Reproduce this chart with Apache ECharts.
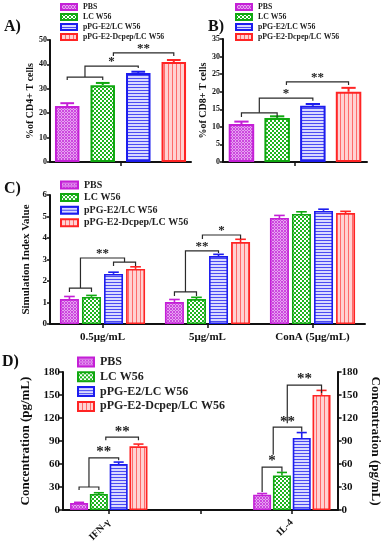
<!DOCTYPE html>
<html><head><meta charset="utf-8">
<script src="https://cdn.jsdelivr.net/npm/echarts@6/dist/echarts.min.js"></script>
<style>html,body{margin:0;padding:0;background:#fff}#c{width:390px;height:550px}</style>
</head><body><div id="c"></div>
<script>
// ---------------- DATA ----------------
const seriesNames = ['PBS', 'LC W56', 'pPG-E2/LC W56', 'pPG-E2-Dcpep/LC W56'];

// Panel A – % of CD4+ T cells
const aValues = [22.9, 31.5, 36.5, 41.0];
const aErrors = [1.2, 0.9, 0.5, 0.8];
const aTicks = [0, 10, 20, 30, 40, 50];
// [fromSlot, toSlot, level, leftEnd, rightEnd, label]
const aBrackets = [[0, 1, 34.8, 33.6, 33.6, ''], [0.5, 2, 39.3, 34.8, 38.5, '*'], [1.3, 3, 44.7, 43.4, 43.4, '**']];

// Panel B – % of CD8+ T cells
const bValues = [10.8, 12.5, 16.0, 20.0];
const bErrors = [0.7, 0.5, 0.5, 1.1];
const bTicks = [0, 5, 10, 15, 20, 25, 30, 35];
const bBrackets = [[0, 1, 14.0, 12.8, 12.8, ''], [0.5, 2, 18.2, 14.0, 17.4, '*'], [1.26, 3, 22.8, 21.9, 21.9, '**']];

// Panel C – Stimulation index
const cCategories = ['0.5μg/mL', '5μg/mL', 'ConA (5μg/mL)'];
const cPBS = [1.16, 1.02, 4.93];
const cLC = [1.26, 1.16, 5.12];
const cPPG = [2.33, 3.16, 5.26];
const cDcpep = [2.56, 3.81, 5.16];
const cErrPBS = [0.12, 0.12, 0.12];
const cErrLC = [0.07, 0.08, 0.1];
const cErrPPG = [0.08, 0.08, 0.08];
const cErrDcpep = [0.1, 0.13, 0.08];
const cTicks = [0, 1, 2, 3, 4, 5, 6];
// [category, fromSlot, toSlot, level, leftEnd, rightEnd, label]
const cBrackets = [
  [0, 0, 1, 1.67, 1.49, 1.49, ''], [0, 2, 3, 2.88, 2.7, 2.7, ''], [0, 0.5, 2.5, 3.07, 1.67, 2.88, '**'],
  [1, 0, 1, 1.49, 1.3, 1.3, ''], [1, 0.5, 2, 3.4, 1.49, 3.3, '**'], [1, 1.27, 3, 4.14, 3.95, 3.95, '*']
];

// Panel D – Cytokine concentration (pg/mL)
const dCategories = ['IFN-γ', 'IL-4'];
const dPBS = [9, 20];
const dLC = [21, 45];
const dPPG = [60, 94];
const dDcpep = [83, 150];
const dErrPBS = [1, 1.5];
const dErrLC = [1.5, 4];
const dErrPPG = [2.5, 7];
const dErrDcpep = [3, 6];
const dTicks = [0, 30, 60, 90, 120, 150, 180];
const dBrackets = [
  [0, 0, 1, 30, 26, 26, ''], [0, 0.5, 2, 68, 30, 65, '**'], [0, 1.35, 3, 95, 91, 91, '**'],
  [1, 0, 1, 56, 23.5, 50, '*'], [1, 0.56, 2, 108, 72, 102, '**'], [1, 1.27, 3, 163, 113, 152.5, '**']
];

// ---------------- STYLE ----------------
const FONT = 'Liberation Serif';
const borderColors = ['#c41fd6', '#10a810', '#1c1cee', '#ff2424'];

function makePattern(kind) {
  const cv = document.createElement('canvas');
  const ctx = cv.getContext('2d');
  if (kind === 0) {
    cv.width = 3; cv.height = 3;
    ctx.fillStyle = '#e7a3f1'; ctx.fillRect(0, 0, 3, 3);
    ctx.fillStyle = '#cc48de';
    ctx.fillRect(0, 0, 1, 1); ctx.fillRect(1, 1, 1, 1); ctx.fillRect(2, 2, 1, 1);
    ctx.fillRect(2, 0, 1, 1); ctx.fillRect(0, 2, 1, 1);
  } else if (kind === 1) {
    cv.width = 4; cv.height = 4;
    ctx.fillStyle = '#1fb41f'; ctx.fillRect(0, 0, 4, 4);
    ctx.fillStyle = '#ffffff';
    ctx.fillRect(0, 0, 2, 2); ctx.fillRect(2, 2, 2, 2);
  } else if (kind === 2) {
    cv.width = 3; cv.height = 3;
    ctx.fillStyle = '#d9d9ff'; ctx.fillRect(0, 0, 3, 3);
    ctx.fillStyle = '#4a4af2'; ctx.fillRect(0, 0, 3, 1);
  } else {
    cv.width = 4; cv.height = 4;
    ctx.fillStyle = '#ffd2d2'; ctx.fillRect(0, 0, 4, 4);
    ctx.fillStyle = '#ff6a6a'; ctx.fillRect(0, 0, 1, 4);
  }
  return { image: cv, repeat: 'repeat' };
}
const patterns = [0, 1, 2, 3].map(makePattern);

const panels = [
  { key: 'A', grid: { left: 50, top: 40, width: 141, height: 122 }, barWidth: 24.5, gap: 0.45, border: 2, tickFont: 8, ticks: aTicks,
    name: '%of CD4+ T cells', nameFont: 10, nameGap: 15, cats: [''], tickLen: 3 },
  { key: 'B', grid: { left: 223, top: 39, width: 144, height: 123 }, barWidth: 25.5, gap: 0.4, border: 2, tickFont: 8, ticks: bTicks,
    name: '%of CD8+ T cells', nameFont: 10, nameGap: 13, cats: [''], tickLen: 3 },
  { key: 'C', grid: { left: 50, top: 195, width: 315, height: 129 }, barWidth: 19, gap: 0.16, border: 1.6, tickFont: 9, ticks: cTicks,
    name: 'Simulation Index Value', nameFont: 11, nameGap: 12, cats: cCategories, tickLen: 3 },
  { key: 'D', grid: { left: 63, top: 372, width: 285, height: 138 }, barWidth: 18, gap: 0.1, border: 1.6, tickFont: 11, ticks: dTicks,
    name: 'Concentration (pg/mL)', nameFont: 13, nameGap: 24, cats: [dCategories[0], '', dCategories[1]], tickLen: 4 }
];

const grids = [], xAxes = [], yAxes = [], series = [], legends = [];

function yAxisFor(p, gi, extra) {
  const t = p.ticks;
  return Object.assign({
    type: 'value', gridIndex: gi, min: t[0], max: t[t.length - 1], interval: t[1] - t[0],
    axisLine: { show: true, lineStyle: { color: '#111', width: 2 } },
    axisTick: { show: true, length: p.tickLen, lineStyle: { color: '#111', width: 1.5 } },
    splitLine: { show: false },
    axisLabel: { fontFamily: FONT, fontWeight: 'bold', fontSize: p.tickFont, color: '#111', margin: 3 },
    name: p.name, nameLocation: 'middle', nameGap: p.nameGap,
    nameTextStyle: { fontFamily: FONT, fontWeight: 'bold', fontSize: p.nameFont, color: '#111' }
  }, extra || {});
}

panels.forEach((p, gi) => {
  grids.push(Object.assign({ containLabel: false }, p.grid));
  xAxes.push({
    type: 'category', gridIndex: gi, data: p.cats,
    axisLine: { show: true, lineStyle: { color: '#111', width: 2 } },
    axisTick: { show: true, alignWithLabel: true, length: 4, lineStyle: { color: '#111', width: 1.5 } },
    axisLabel: p.key === 'C' ? { fontFamily: FONT, fontWeight: 'bold', fontSize: 11, color: '#111', margin: 8 }
      : p.key === 'D' ? { fontFamily: FONT, fontWeight: 'bold', fontSize: 10, color: '#111', rotate: 45, margin: 11, interval: 0 }
      : { show: false }
  });
});
yAxes.push(yAxisFor(panels[0], 0));
yAxes.push(yAxisFor(panels[1], 1));
yAxes.push(yAxisFor(panels[2], 2));
yAxes.push(yAxisFor(panels[3], 3, { position: 'left' }));
yAxes.push(yAxisFor(panels[3], 3, { position: 'right', nameRotate: -90,
  axisLabel: { fontFamily: FONT, fontWeight: 'bold', fontSize: 11, color: '#111', margin: 4 } }));

function barSeries(pi, yi, datas) {
  const p = panels[pi];
  datas.forEach((d, s) => {
    series.push({
      type: 'bar', name: seriesNames[s], xAxisIndex: pi, yAxisIndex: yi,
      data: d, barWidth: p.barWidth, barGap: (p.gap * 100) + '%',
      itemStyle: { color: patterns[s], borderColor: borderColors[s], borderWidth: p.border },
      emphasis: { disabled: true }, z: 2
    });
  });
}
function errorSeries(pi, yi, items) {
  const p = panels[pi];
  const step = p.barWidth * (1 + p.gap);
  series.push({
    type: 'custom', xAxisIndex: pi, yAxisIndex: yi, z: 5, silent: true,
    data: items,
    renderItem: (params, api) => {
      const cat = api.value(0), slot = api.value(1), v = api.value(2), e = api.value(3);
      const b = api.coord([cat, v]), t = api.coord([cat, v + e]);
      const x = b[0] + (slot - 1.5) * step;
      const cap = p.barWidth * 0.28;
      const st = { stroke: borderColors[slot], lineWidth: p.border };
      return { type: 'group', children: [
        { type: 'line', shape: { x1: x, y1: b[1], x2: x, y2: t[1] }, style: st },
        { type: 'line', shape: { x1: x - cap, y1: t[1], x2: x + cap, y2: t[1] }, style: st }
      ] };
    }
  });
}
function bracketSeries(pi, yi, list, catMap) {
  const p = panels[pi];
  const step = p.barWidth * (1 + p.gap);
  series.push({
    type: 'custom', xAxisIndex: pi, yAxisIndex: yi, z: 6, silent: true,
    data: list.map(b => [catMap(b[0]), b[1], b[2], b[3], b[4], b[5]]),
    renderItem: (params, api) => {
      const br = list[params.dataIndex];
      const cat = api.value(0);
      const c0 = api.coord([cat, 0])[0];
      const xa = c0 + (api.value(1) - 1.5) * step, xb = c0 + (api.value(2) - 1.5) * step;
      const y = api.coord([cat, api.value(3)])[1];
      const yl = api.coord([cat, api.value(4)])[1];
      const yr = api.coord([cat, api.value(5)])[1];
      const children = [{ type: 'polyline', shape: { points: [[xa, yl], [xa, y], [xb, y], [xb, yr]] },
        style: { stroke: '#2a2a2a', lineWidth: 1.2, fill: null } }];
      if (br[6]) children.push({ type: 'text', x: (xa + xb) / 2, y: y + 2,
        style: { text: br[6], fontFamily: FONT, fontWeight: 'bold', fontSize: p.key === 'D' ? 15 : 13,
          fill: '#222', align: 'center', verticalAlign: 'bottom' } });
      return { type: 'group', children };
    }
  });
}

// Panel A
barSeries(0, 0, aValues.map(v => [v]));
errorSeries(0, 0, aValues.map((v, s) => [0, s, v, aErrors[s]]));
bracketSeries(0, 0, aBrackets.map(b => [0].concat(b)), c => c);
// Panel B
barSeries(1, 1, bValues.map(v => [v]));
errorSeries(1, 1, bValues.map((v, s) => [0, s, v, bErrors[s]]));
bracketSeries(1, 1, bBrackets.map(b => [0].concat(b)), c => c);
// Panel C
const cVals = [cPBS, cLC, cPPG, cDcpep], cErrs = [cErrPBS, cErrLC, cErrPPG, cErrDcpep];
barSeries(2, 2, cVals);
const cItems = [];
cVals.forEach((arr, s) => arr.forEach((v, i) => cItems.push([i, s, v, cErrs[s][i]])));
errorSeries(2, 2, cItems);
bracketSeries(2, 2, cBrackets, c => c);
// Panel D (middle category is an empty spacer)
const dVals = [dPBS, dLC, dPPG, dDcpep], dErrs = [dErrPBS, dErrLC, dErrPPG, dErrDcpep];
barSeries(3, 3, dVals.map(a => [a[0], '-', a[1]]));
const dItems = [];
dVals.forEach((arr, s) => arr.forEach((v, i) => dItems.push([i * 2, s, v, dErrs[s][i]])));
errorSeries(3, 3, dItems);
bracketSeries(3, 3, dBrackets, c => c * 2);

const legendBase = (left, top, w, h, gap, fs) => ({
  orient: 'vertical', left, top, itemWidth: w, itemHeight: h, itemGap: gap, data: seriesNames,
  selectedMode: false, icon: 'rect', padding: 0,
  textStyle: { fontFamily: FONT, fontWeight: 'bold', fontSize: fs, color: '#222', padding: [0, 0, 0, 1] }
});
legends.push(legendBase(60, 3, 16, 6, 2, 7.8));
legends.push(legendBase(235, 3, 16, 6, 2, 7.8));
legends.push(legendBase(60, 180, 17, 7, 2.6, 10));
legends.push(legendBase(77, 356, 16, 9, 2.8, 12));

const chart = echarts.init(document.getElementById('c'), null, { renderer: 'canvas' });
const lbl = (t, x, y, fs) => ({ type: 'text', left: x, top: y,
  style: { text: t, fontFamily: FONT, fontWeight: 'bold', fontSize: fs, fill: '#111' } });
chart.setOption({
  animation: false, backgroundColor: '#fff',
  grid: grids, xAxis: xAxes, yAxis: yAxes, series, legend: legends,
  graphic: [lbl('A)', 4, 19, 16), lbl('B)', 208, 19, 16), lbl('C)', 4, 181, 16), lbl('D)', 2, 354, 16)]
});
</script></body></html>
